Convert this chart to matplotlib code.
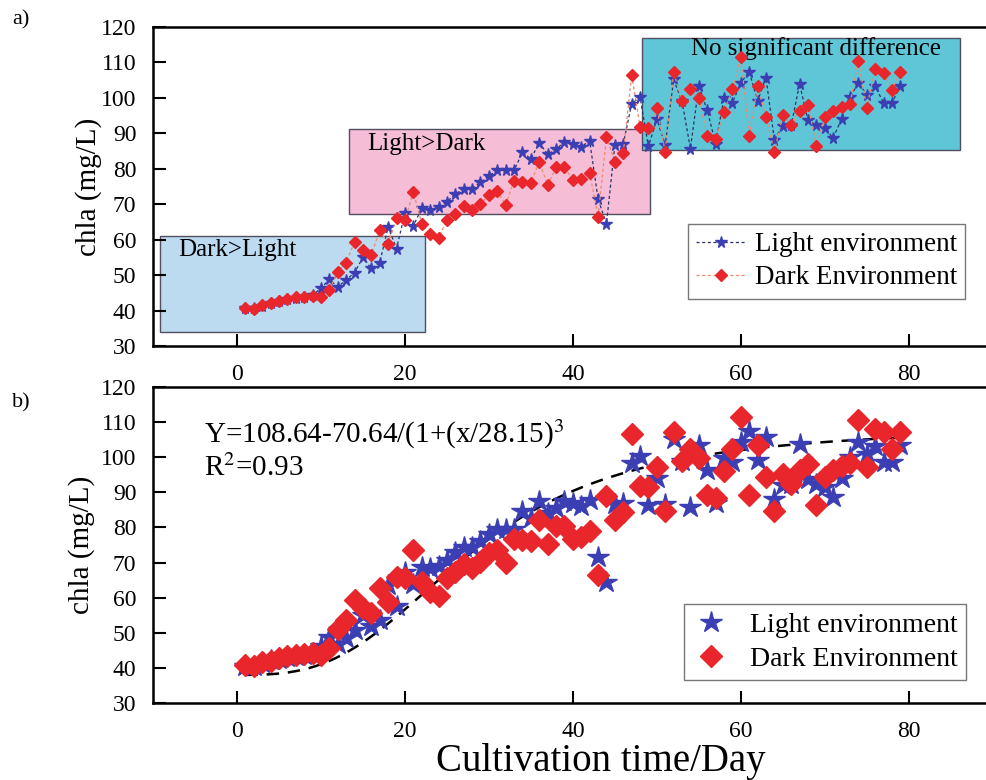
import numpy as np
import matplotlib
matplotlib.use("Agg")
import matplotlib.pyplot as plt
from matplotlib.patches import Rectangle

plt.rcParams['font.family'] = ['Liberation Serif', 'DejaVu Serif']
plt.rcParams['mathtext.fontset'] = 'stix'

days = list(range(1, 80))

light = [40.6, 40.6, 41.4, 42.2, 42.6, 43.2, 43.5, 43.8, 44.3, 46.3,
         48.8, 46.7, 48.6, 50.7, 55.0, 51.9, 53.5, 63.6, 57.5, 67.4,
         63.9, 68.8, 68.4, 69.1, 70.7, 72.9, 74.3, 74.3, 76.2, 78.0,
         79.6, 79.6, 79.6, 84.6, 82.8, 87.4, 84.1, 85.5, 87.6, 87.0,
         86.2, 87.9, 71.5, 64.4, 86.7, 87.0, 98.3, 100.3, 86.3, 94.0,
         86.7, 105.2, 99.0, 85.7, 103.4, 96.5, 87.1, 99.9, 98.6, 104.3,
         107.4, 99.2, 105.7, 88.1, 92.2, 92.3, 103.9, 93.7, 92.3, 91.4,
         88.7, 94.1, 100.2, 104.2, 100.9, 103.3, 98.6, 98.6, 103.4]

dark = [40.8, 40.4, 41.6, 42.0, 42.8, 43.4, 43.7, 43.9, 44.1, 43.7,
        45.8, 51.0, 53.5, 59.4, 57.1, 55.7, 62.7, 58.8, 66.0, 65.5,
        73.5, 64.5, 61.6, 60.4, 65.5, 67.2, 69.5, 68.4, 70.2, 72.6,
        73.7, 69.8, 76.6, 76.3, 76.1, 82.0, 75.4, 80.4, 80.4, 76.8,
        77.2, 78.9, 66.5, 88.9, 82.0, 84.4, 106.5, 91.9, 91.4, 97.1,
        84.8, 107.3, 99.0, 102.4, 99.9, 89.3, 88.3, 96.1, 102.4, 111.5,
        89.2, 103.4, 94.5, 84.8, 95.2, 92.3, 96.4, 98.1, 86.5, 94.5,
        96.4, 97.5, 98.4, 110.5, 97.2, 108.1, 107.1, 102.3, 107.3]

# Fit parameters (from annotation)
fit_a, fit_b, fit_c, fit_n = 108.64, 70.64, 28.15, 3

# Region boxes
regions_x = [(-9.2, 22.4), (13.4, 49.2), (48.2, 86.1)]
regions_y = [(33.9, 61.0), (67.2, 91.2), (85.3, 116.9)]
region_labels = ["Dark>Light", "Light>Dark", "No significant difference"]
region_colors = ["#bcdaf0", "#f5bdd6", "#5ec6d6"]

xticks = [0, 20, 40, 60, 80]
yticks = [30, 40, 50, 60, 70, 80, 90, 100, 110, 120]

star_c = "#3b3fb3"
dia_c = "#e8262b"

fig = plt.figure(figsize=(9.86, 7.8), dpi=100)
W, H = 986, 780
def ax_rect(l, t, r, b):
    return [l / W, 1 - b / H, (r - l) / W, (b - t) / H]

axa = fig.add_axes(ax_rect(153, 27, 986, 346))
axb = fig.add_axes(ax_rect(153, 387, 986, 703))

for ax in (axa, axb):
    ax.set_xlim(-10, 89.2)
    ax.set_ylim(30, 120)
    ax.set_xticks(xticks)
    ax.set_yticks(yticks)
    ax.tick_params(direction='in', length=9, width=1.5, labelsize=17, pad=12)
    ax.tick_params(axis='x', pad=13)
    ax.spines['right'].set_visible(False)
    for s in ('left', 'bottom', 'top'):
        ax.spines[s].set_linewidth(1.8)

axa.set_ylabel("chla (mg/L)", fontsize=21, labelpad=-1)
axb.set_ylabel("chla (mg/L)", fontsize=21, labelpad=4.5)

# ---- panel a ----
for i, ((x0, x1), (y0, y1)) in enumerate(zip(regions_x, regions_y)):
    z = 1 if i != 1 else 0.9
    axa.add_patch(Rectangle((x0, y0), x1 - x0, y1 - y0, facecolor=region_colors[i],
                            edgecolor="#505060", linewidth=1.0, zorder=z))
axa.text(-7.0, 57.2, region_labels[0], fontsize=18, va='center', ha='left', zorder=2)
axa.text(15.5, 87.0, region_labels[1], fontsize=18, va='center', ha='left', zorder=2)
axa.text(68.9, 113.8, region_labels[2], fontsize=18, va='center', ha='center', zorder=2)

axa.plot(days, light, linestyle=(0, (2.5, 2)), color="#2a3566", lw=0.9,
         marker='*', ms=8.5, mfc=star_c, mec=star_c, zorder=3, label="Light environment")
axa.plot(days, dark, linestyle=(0, (2.5, 2)), color="#f08a6a", lw=0.9,
         marker='D', ms=6, mfc=dia_c, mec=dia_c, zorder=4, label="Dark Environment")

leg_a = axa.legend(loc='upper left', bbox_to_anchor=(0.6425, 0.382), fontsize=19.5,
                   frameon=True, fancybox=False, edgecolor="#555555", borderaxespad=0,
                   handlelength=1.8, borderpad=0.3, labelspacing=0.3, handletextpad=0.35)
leg_a.get_frame().set_linewidth(1.0)

# ---- panel b ----
xf = np.linspace(1, 79, 300)
yf = fit_a - fit_b / (1 + (xf / fit_c) ** fit_n)
axb.plot(xf, yf, color='black', linestyle=(0, (5, 3.5)), lw=1.8, zorder=2)
axb.plot(days, light, linestyle='none', marker='*', ms=16, mfc=star_c, mec=star_c,
         zorder=3, label="Light environment")
axb.plot(days, dark, linestyle='none', marker='D', ms=11.5, mfc=dia_c, mec=dia_c,
         zorder=4, label="Dark Environment")
axb.text(-3.9, 106.5, r"Y=108.64-70.64/(1+(x/28.15)$^{3}$", fontsize=21, va='center', ha='left')
axb.text(-3.9, 96.8, r"R$^{2}$=0.93", fontsize=21, va='center', ha='left')

leg_b = axb.legend(loc='upper left', bbox_to_anchor=(0.637, 0.313), fontsize=20,
                   frameon=True, fancybox=False, edgecolor="#555555", borderaxespad=0,
                   handlelength=1.4, borderpad=0.3, labelspacing=0.3, handletextpad=0.7)
leg_b.get_frame().set_linewidth(1.0)

fig.text(601 / W, 1 - 762 / H, "Cultivation time/Day", fontsize=28, va='center', ha='center')

fig.text(12 / W, 1 - 20 / H, "a)", fontsize=16, va='center', ha='left')
fig.text(12 / W, 1 - 403 / H, "b)", fontsize=16, va='center', ha='left')

fig.savefig("out.png", dpi=100)
